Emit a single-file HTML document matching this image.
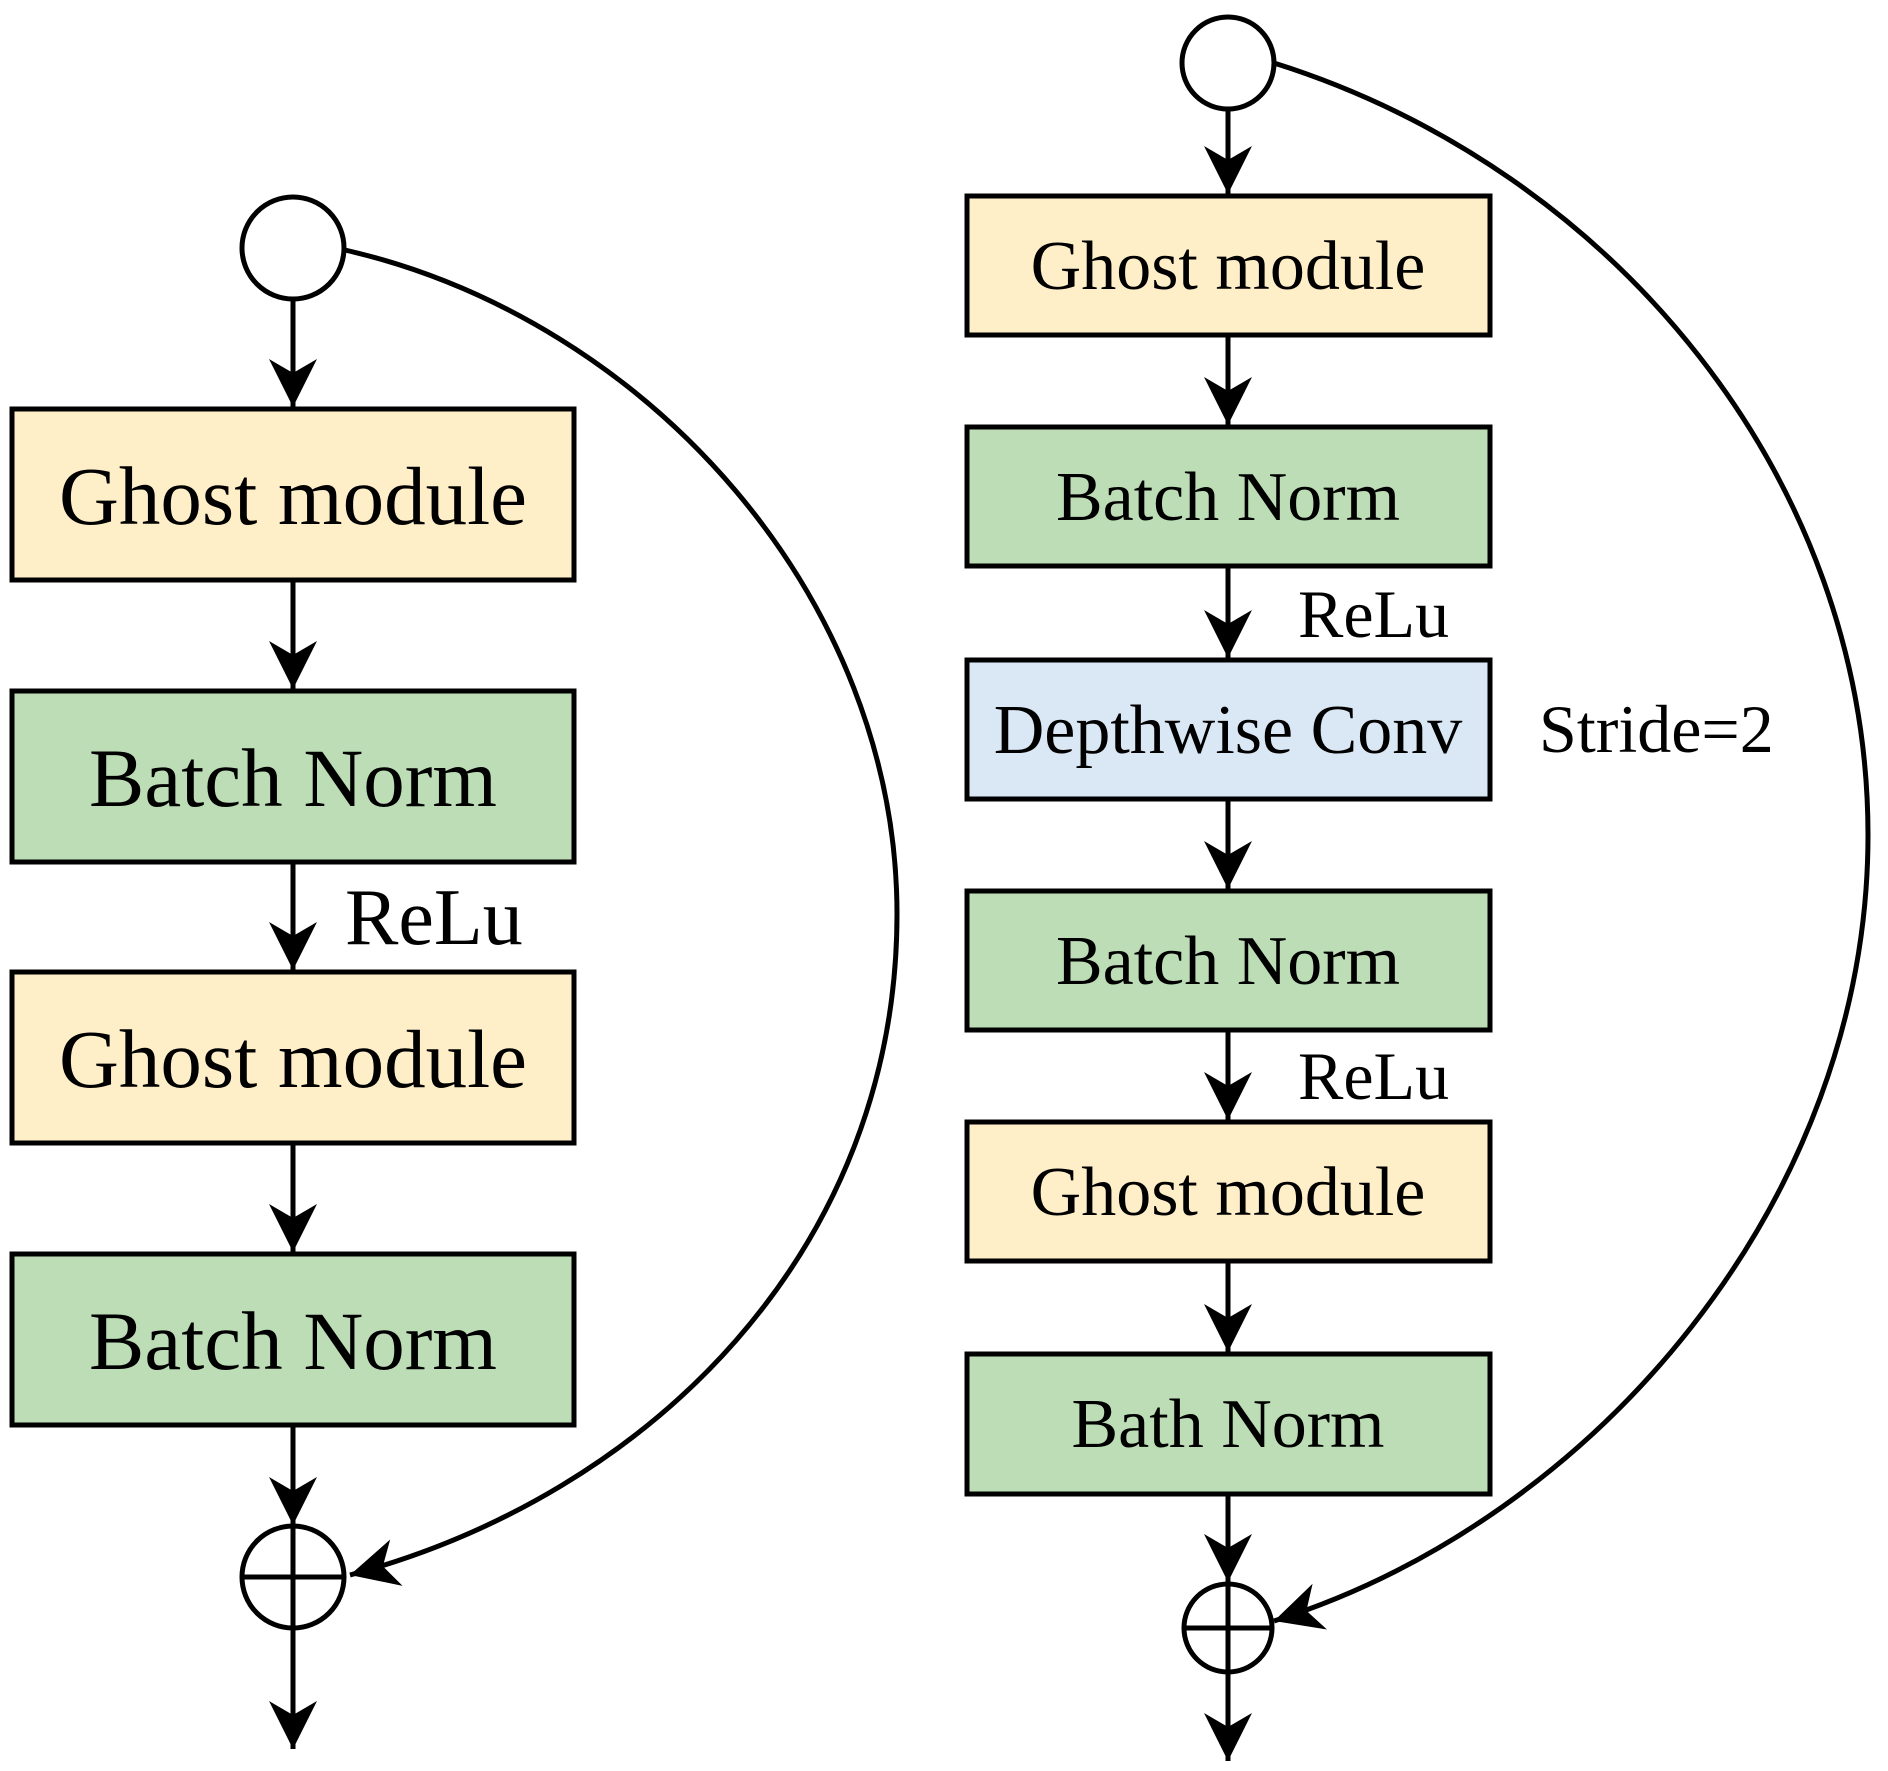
<!DOCTYPE html>
<html><head><meta charset="utf-8"><style>
html,body{margin:0;padding:0;background:#fff}
svg{display:block}
text{font-family:"Liberation Serif",serif;fill:#000}
</style></head><body>
<svg width="1888" height="1771" viewBox="0 0 1888 1771" xmlns="http://www.w3.org/2000/svg">
<defs>
<marker id="a" markerUnits="userSpaceOnUse" markerWidth="60" markerHeight="60" refX="0" refY="0" viewBox="-50 -30 60 60" orient="auto">
<path d="M0,0 L-48,-24 L-34,0 L-48,24 Z" fill="#000"/>
</marker>
</defs>
<g stroke="#000" stroke-width="5" fill="none">
<circle cx="293" cy="248" r="51" fill="#fff"/>
<line x1="293" y1="299" x2="293" y2="407" marker-end="url(#a)"/>
<rect x="12" y="409" width="562" height="171" fill="#FFEFC9"/>
<line x1="293" y1="580" x2="293" y2="689" marker-end="url(#a)"/>
<rect x="12" y="691" width="562" height="171" fill="#BCDDB5"/>
<line x1="293" y1="862" x2="293" y2="970" marker-end="url(#a)"/>
<rect x="12" y="972" width="562" height="171" fill="#FFEFC9"/>
<line x1="293" y1="1143" x2="293" y2="1252" marker-end="url(#a)"/>
<rect x="12" y="1254" width="562" height="171" fill="#BCDDB5"/>
<line x1="293" y1="1425" x2="293" y2="1525" marker-end="url(#a)"/>
<circle cx="293" cy="1577" r="51" fill="#fff"/>
<line x1="242" y1="1577" x2="344" y2="1577"/>
<line x1="293" y1="1526" x2="293" y2="1628"/>
<line x1="293" y1="1628" x2="293" y2="1749" marker-end="url(#a)"/>
<path d="M345,250 C650,320 897,600 897,914 C897,1250 650,1495 350,1575" marker-end="url(#a)"/>
<circle cx="1228" cy="63" r="46" fill="#fff"/>
<line x1="1228" y1="109" x2="1228" y2="194" marker-end="url(#a)"/>
<rect x="967" y="196" width="523" height="139" fill="#FFEFC9"/>
<line x1="1228" y1="335" x2="1228" y2="425" marker-end="url(#a)"/>
<rect x="967" y="427" width="523" height="139" fill="#BCDDB5"/>
<line x1="1228" y1="566" x2="1228" y2="658" marker-end="url(#a)"/>
<rect x="967" y="660" width="523" height="139" fill="#DAE7F4"/>
<line x1="1228" y1="799" x2="1228" y2="889" marker-end="url(#a)"/>
<rect x="967" y="891" width="523" height="139" fill="#BCDDB5"/>
<line x1="1228" y1="1030" x2="1228" y2="1120" marker-end="url(#a)"/>
<rect x="967" y="1122" width="523" height="139" fill="#FFEFC9"/>
<line x1="1228" y1="1261" x2="1228" y2="1352" marker-end="url(#a)"/>
<rect x="967" y="1354" width="523" height="140" fill="#BCDDB5"/>
<line x1="1228" y1="1494" x2="1228" y2="1582" marker-end="url(#a)"/>
<circle cx="1228" cy="1628" r="44" fill="#fff"/>
<line x1="1184" y1="1628" x2="1272" y2="1628"/>
<line x1="1228" y1="1584" x2="1228" y2="1672"/>
<line x1="1228" y1="1672" x2="1228" y2="1761" marker-end="url(#a)"/>
<path d="M1274,63 C1615,170 1868,480 1868,835 C1868,1200 1595,1520 1274,1621" marker-end="url(#a)"/>
</g>
<g text-anchor="middle" font-size="83">
<text x="293" y="524">Ghost module</text>
<text x="293" y="806">Batch Norm</text>
<text x="293" y="1087">Ghost module</text>
<text x="293" y="1369">Batch Norm</text>
</g>
<text x="345" y="944" font-size="80">ReLu</text>
<g text-anchor="middle" font-size="70">
<text x="1228" y="289">Ghost module</text>
<text x="1228" y="520">Batch Norm</text>
<text x="1228" y="753">Depthwise Conv</text>
<text x="1228" y="984">Batch Norm</text>
<text x="1228" y="1215">Ghost module</text>
<text x="1228" y="1447">Bath Norm</text>
</g>
<g font-size="68">
<text x="1298" y="637">ReLu</text>
<text x="1298" y="1099">ReLu</text>
<text x="1539" y="752">Stride=2</text>
</g>
</svg>
</body></html>
